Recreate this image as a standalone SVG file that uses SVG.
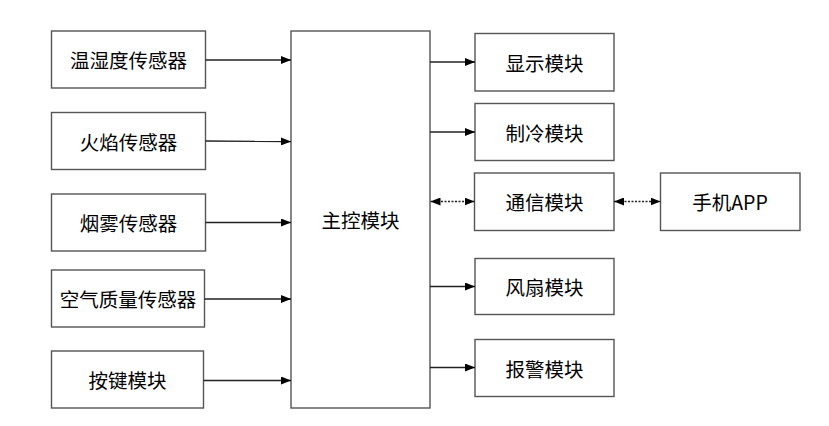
<svg xmlns="http://www.w3.org/2000/svg" width="829" height="426" viewBox="0 0 829 426">
<defs>
<style>
.box{fill:#fff;stroke:#555;stroke-width:1.4}
.t{font-family:"Noto Sans CJK SC","Noto Sans",sans-serif;font-size:19.5px;fill:#000;text-anchor:middle;dominant-baseline:central}
.c{stroke:#222;stroke-width:1.3;fill:none}
.d{stroke:#222;stroke-width:1.3;fill:none;stroke-dasharray:2 1.5}
</style>
<marker id="ah" viewBox="0 0 10 8" refX="10" refY="4" markerWidth="10" markerHeight="8" markerUnits="userSpaceOnUse" orient="auto-start-reverse">
<path d="M0,0 L10,4 L0,8 Z" fill="#000"/>
</marker>
</defs>
<rect width="829" height="426" fill="#fff"/>
<g id="n1"><rect class="box" x="51.5" y="31" width="154" height="57"/><text class="t" x="128.5" y="59.5">温湿度传感器</text></g>
<g id="n2"><rect class="box" x="51.5" y="112.5" width="154" height="57"/><text class="t" x="128.5" y="141">火焰传感器</text></g>
<g id="n3"><rect class="box" x="51.5" y="194" width="154" height="57"/><text class="t" x="128.5" y="222.5">烟雾传感器</text></g>
<g id="n4"><rect class="box" x="51.5" y="270" width="153" height="57"/><text class="t" x="128" y="298.5">空气质量传感器</text></g>
<g id="n5"><rect class="box" x="51.5" y="351" width="152" height="57"/><text class="t" x="127.5" y="379.5">按键模块</text></g>
<g id="main"><rect class="box" x="291" y="31" width="139" height="377"/><text class="t" x="360.5" y="219">主控模块</text></g>
<g id="r1"><rect class="box" x="475" y="33.5" width="139" height="57.5"/><text class="t" x="544.5" y="62">显示模块</text></g>
<g id="r2"><rect class="box" x="475" y="103.5" width="139" height="57"/><text class="t" x="544.5" y="132">制冷模块</text></g>
<g id="r3"><rect class="box" x="474.5" y="173" width="139.5" height="57.5"/><text class="t" x="544.5" y="201.5">通信模块</text></g>
<g id="r4"><rect class="box" x="475" y="258.5" width="139" height="56"/><text class="t" x="544.5" y="286.5">风扇模块</text></g>
<g id="r5"><rect class="box" x="475" y="339.5" width="139" height="57"/><text class="t" x="544.5" y="368">报警模块</text></g>
<g id="app"><rect class="box" x="660.5" y="173" width="139.5" height="57.5"/><text class="t" x="730" y="201.5">手机APP</text></g>
<g id="connectors">
<line class="c" x1="205.5" y1="60" x2="291" y2="60" marker-end="url(#ah)"/>
<line class="c" x1="205.5" y1="141" x2="291" y2="141.5" marker-end="url(#ah)"/>
<line class="c" x1="205.5" y1="222.5" x2="291" y2="222.5" marker-end="url(#ah)"/>
<line class="c" x1="204.5" y1="299" x2="291" y2="299" marker-end="url(#ah)"/>
<line class="c" x1="203.5" y1="380.5" x2="291" y2="380.5" marker-end="url(#ah)"/>
<line class="c" x1="430" y1="62" x2="475" y2="62" marker-end="url(#ah)"/>
<line class="c" x1="430" y1="132" x2="475" y2="132" marker-end="url(#ah)"/>
<line class="c" x1="430" y1="286.5" x2="475" y2="286.5" marker-end="url(#ah)"/>
<line class="c" x1="430" y1="367.5" x2="475" y2="367.5" marker-end="url(#ah)"/>
<line class="d" x1="430.5" y1="201.5" x2="474.5" y2="201.5" marker-start="url(#ah)" marker-end="url(#ah)"/>
<line class="d" x1="614" y1="201.5" x2="660.5" y2="201.5" marker-start="url(#ah)" marker-end="url(#ah)"/>
</g>
</svg>
